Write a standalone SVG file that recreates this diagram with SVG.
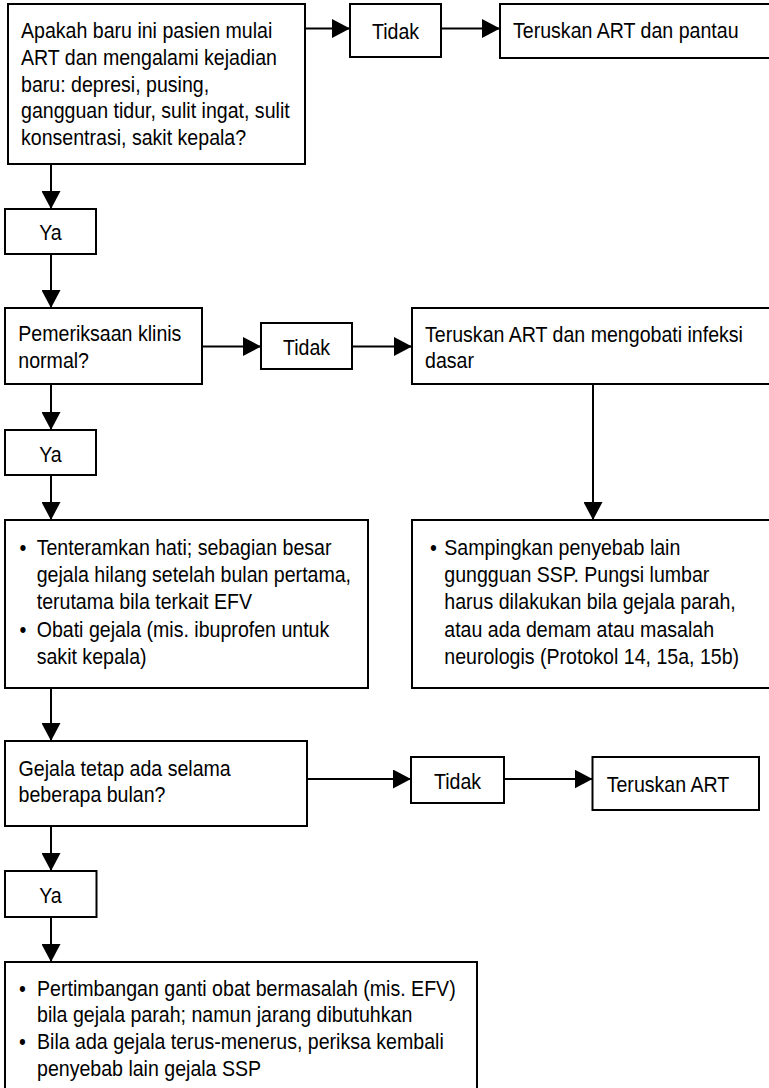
<svg xmlns="http://www.w3.org/2000/svg" width="769" height="1088" viewBox="0 0 769 1088">
<style>
.box{fill:#fff;stroke:#000;stroke-width:2}
.t{font-family:"Liberation Sans",Arial,sans-serif;font-size:22.5px;fill:#000}
.c{text-anchor:middle}
.ln{fill:none;stroke:#000;stroke-width:2;marker-end:url(#ah)}
</style>
<defs>
<marker id="ah" markerUnits="userSpaceOnUse" markerWidth="19" markerHeight="19" refX="18" refY="9.5" orient="auto" viewBox="0 0 19 19">
<path d="M0,0 L18,9.5 L0,19 Z" fill="#000"/>
</marker>
</defs>
<rect width="769" height="1088" fill="#fff"/>

<g id="connectors">
<path class="ln" d="M305,28.5 H350"/>
<path class="ln" d="M441,28.5 H500"/>
<path class="ln" d="M51,164 V209"/>
<path class="ln" d="M51,254 V308"/>
<path class="ln" d="M202,346.5 H261"/>
<path class="ln" d="M352,346.5 H412"/>
<path class="ln" d="M593,384 V520"/>
<path class="ln" d="M51,384 V430"/>
<path class="ln" d="M51,475 V520"/>
<path class="ln" d="M51,688 V741"/>
<path class="ln" d="M307,779 H411"/>
<path class="ln" d="M504,779 H592.5"/>
<path class="ln" d="M51,826 V871"/>
<path class="ln" d="M51,917 V962"/>
</g>

<g id="q1">
<rect class="box" x="8" y="4" width="297" height="160"/>
<text class="t" transform="translate(21,38.3) scale(0.87,1)"><tspan x="0" y="0">Apakah baru ini pasien mulai</tspan><tspan x="0" y="26.7">ART dan mengalami kejadian</tspan><tspan x="0" y="53.4">baru: depresi, pusing,</tspan><tspan x="0" y="80.1">gangguan tidur, sulit ingat, sulit</tspan><tspan x="0" y="106.8">konsentrasi, sakit kepala?</tspan></text>
</g>

<g id="tidak1">
<rect class="box" x="350" y="4" width="91" height="53"/>
<text class="t c" transform="translate(395.5,38.5) scale(0.87,1)">Tidak</text>
</g>

<g id="pantau">
<rect class="box" x="500" y="4" width="272" height="54"/>
<text class="t" transform="translate(513,38) scale(0.87,1)">Teruskan ART dan pantau</text>
</g>

<g id="ya1">
<rect class="box" x="5" y="209" width="91" height="45"/>
<text class="t c" transform="translate(50.5,240) scale(0.87,1)">Ya</text>
</g>

<g id="q2">
<rect class="box" x="5" y="308" width="197" height="76"/>
<text class="t" transform="translate(18.3,341) scale(0.87,1)"><tspan x="0" y="0">Pemeriksaan klinis</tspan><tspan x="0" y="26.7">normal?</tspan></text>
</g>

<g id="tidak2">
<rect class="box" x="261" y="323" width="91" height="46"/>
<text class="t c" transform="translate(306.5,355) scale(0.87,1)">Tidak</text>
</g>

<g id="mengobati">
<rect class="box" x="412" y="308" width="360" height="76"/>
<text class="t" transform="translate(425,341.5) scale(0.87,1)"><tspan x="0" y="0">Teruskan ART dan mengobati infeksi</tspan><tspan x="0" y="26.7">dasar</tspan></text>
</g>

<g id="ya2">
<rect class="box" x="5" y="430" width="91" height="45"/>
<text class="t c" transform="translate(50.5,462) scale(0.87,1)">Ya</text>
</g>

<g id="tenteramkan">
<rect class="box" x="5" y="520" width="363" height="168"/>
<text class="t" transform="translate(19.5,555) scale(0.87,1)"><tspan x="0" y="0">•</tspan><tspan x="0" y="81.6">•</tspan></text>
<text class="t" transform="translate(36.7,555) scale(0.87,1)"><tspan x="0" y="0">Tenteramkan hati; sebagian besar</tspan><tspan x="0" y="27.2">gejala hilang setelah bulan pertama,</tspan><tspan x="0" y="54.4">terutama bila terkait EFV</tspan><tspan x="0" y="81.6">Obati gejala (mis. ibuprofen untuk</tspan><tspan x="0" y="108.8">sakit kepala)</tspan></text>
</g>

<g id="sampingkan">
<rect class="box" x="412" y="520" width="360" height="168"/>
<text class="t" transform="translate(430,555) scale(0.87,1)">•</text>
<text class="t" transform="translate(444.3,555) scale(0.87,1)"><tspan x="0" y="0">Sampingkan penyebab lain</tspan><tspan x="0" y="27.2">gungguan SSP. Pungsi lumbar</tspan><tspan x="0" y="54.4">harus dilakukan bila gejala parah,</tspan><tspan x="0" y="81.6">atau ada demam atau masalah</tspan><tspan x="0" y="108.8">neurologis (Protokol 14, 15a, 15b)</tspan></text>
</g>

<g id="q3">
<rect class="box" x="5" y="741" width="302" height="85"/>
<text class="t" transform="translate(18.6,775.5) scale(0.87,1)"><tspan x="0" y="0">Gejala tetap ada selama</tspan><tspan x="0" y="26.7">beberapa bulan?</tspan></text>
</g>

<g id="tidak3">
<rect class="box" x="411" y="757" width="93" height="46"/>
<text class="t c" transform="translate(457.5,788.5) scale(0.87,1)">Tidak</text>
</g>

<g id="teruskan">
<rect class="box" x="592.5" y="757" width="166.5" height="53"/>
<text class="t" transform="translate(606.7,791.5) scale(0.87,1)">Teruskan ART</text>
</g>

<g id="ya3">
<rect class="box" x="5" y="871" width="91.5" height="46"/>
<text class="t c" transform="translate(50.5,902.5) scale(0.87,1)">Ya</text>
</g>

<g id="pertimbangan">
<rect class="box" x="5" y="962" width="472" height="135"/>
<text class="t" transform="translate(19,995.5) scale(0.87,1)"><tspan x="0" y="0">•</tspan><tspan x="0" y="54">•</tspan></text>
<text class="t" transform="translate(37,995.5) scale(0.87,1)"><tspan x="0" y="0">Pertimbangan ganti obat bermasalah (mis. EFV)</tspan><tspan x="0" y="27">bila gejala parah; namun jarang dibutuhkan</tspan><tspan x="0" y="54">Bila ada gejala terus-menerus, periksa kembali</tspan><tspan x="0" y="81">penyebab lain gejala SSP</tspan></text>
</g>
</svg>
